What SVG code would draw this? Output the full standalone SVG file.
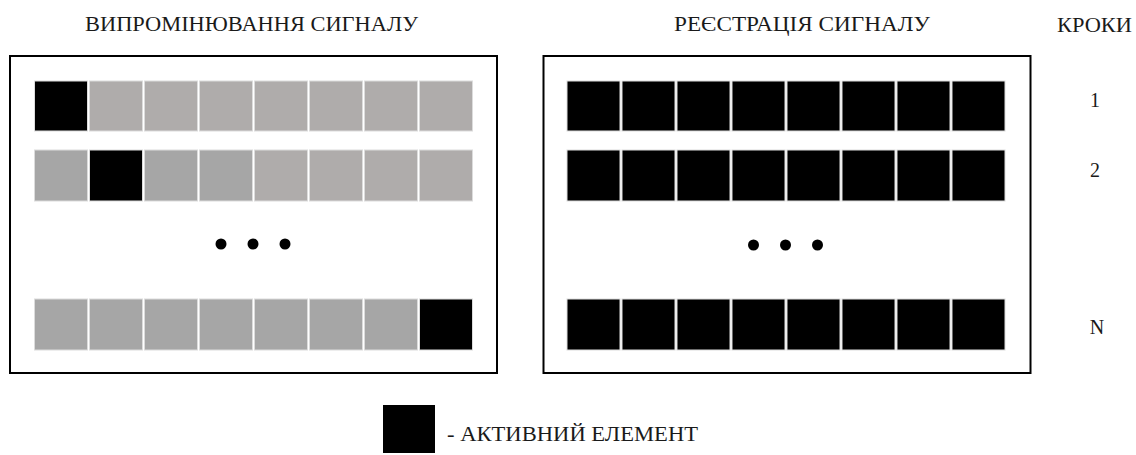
<svg xmlns="http://www.w3.org/2000/svg" width="1136" height="455" viewBox="0 0 1136 455">
  <style>
    text { font-family: 'Liberation Serif', 'DejaVu Serif', serif; font-size: 20px; fill: #1a1a1a; }
    .frame { fill: #ffffff; stroke: #000000; stroke-width: 2; }
    .c { stroke: #dcdcdc; stroke-width: 1; }
    .k { fill: #000000; }
    .g1 { fill: #a6a6a6; }
    .g2 { fill: #afacab; }
    .dot { fill: #000000; }
  </style>
  <rect width="1136" height="455" fill="#ffffff"/>

  <g id="title-emission">
    <text x="251.5" y="31" text-anchor="middle" textLength="333" lengthAdjust="spacingAndGlyphs">ВИПРОМІНЮВАННЯ СИГНАЛУ</text>
  </g>
  <g id="title-registration">
    <text x="802" y="31" text-anchor="middle" textLength="256" lengthAdjust="spacingAndGlyphs">РЕЄСТРАЦІЯ СИГНАЛУ</text>
  </g>
  <g id="title-steps">
    <text x="1094.5" y="32" text-anchor="middle" textLength="75" lengthAdjust="spacingAndGlyphs">КРОКИ</text>
  </g>

  <g id="emission-panel">
    <rect class="frame" x="10" y="56" width="487" height="317"/>
    <g id="emission-row-1">
      <rect class="c k"  x="34.5"  y="81" width="53" height="50"/>
      <rect class="c g2" x="89.5"  y="81" width="53" height="50"/>
      <rect class="c g2" x="144.5" y="81" width="53" height="50"/>
      <rect class="c g2" x="199.5" y="81" width="53" height="50"/>
      <rect class="c g2" x="254.5" y="81" width="53" height="50"/>
      <rect class="c g2" x="309.5" y="81" width="53" height="50"/>
      <rect class="c g2" x="364.5" y="81" width="53" height="50"/>
      <rect class="c g2" x="419.5" y="81" width="53" height="50"/>
    </g>
    <g id="emission-row-2">
      <rect class="c g1" x="34.5"  y="150" width="53" height="51"/>
      <rect class="c k"  x="89.5"  y="150" width="53" height="51"/>
      <rect class="c g1" x="144.5" y="150" width="53" height="51"/>
      <rect class="c g1" x="199.5" y="150" width="53" height="51"/>
      <rect class="c g2" x="254.5" y="150" width="53" height="51"/>
      <rect class="c g2" x="309.5" y="150" width="53" height="51"/>
      <rect class="c g2" x="364.5" y="150" width="53" height="51"/>
      <rect class="c g2" x="419.5" y="150" width="53" height="51"/>
    </g>
    <g id="emission-ellipsis">
      <circle class="dot" cx="221" cy="244" r="5.5"/>
      <circle class="dot" cx="253" cy="244" r="5.5"/>
      <circle class="dot" cx="285" cy="244" r="5.5"/>
    </g>
    <g id="emission-row-n">
      <rect class="c g1" x="34.5"  y="299" width="53" height="51"/>
      <rect class="c g1" x="89.5"  y="299" width="53" height="51"/>
      <rect class="c g1" x="144.5" y="299" width="53" height="51"/>
      <rect class="c g1" x="199.5" y="299" width="53" height="51"/>
      <rect class="c g1" x="254.5" y="299" width="53" height="51"/>
      <rect class="c g1" x="309.5" y="299" width="53" height="51"/>
      <rect class="c g1" x="364.5" y="299" width="53" height="51"/>
      <rect class="c k"  x="419.5" y="299" width="53" height="51"/>
    </g>
  </g>

  <g id="registration-panel">
    <rect class="frame" x="543.5" y="56" width="487" height="317"/>
    <g id="registration-row-1">
      <rect class="c k" x="567"   y="81" width="53" height="50"/>
      <rect class="c k" x="622"   y="81" width="53" height="50"/>
      <rect class="c k" x="677"   y="81" width="53" height="50"/>
      <rect class="c k" x="732"   y="81" width="53" height="50"/>
      <rect class="c k" x="787"   y="81" width="53" height="50"/>
      <rect class="c k" x="842"   y="81" width="53" height="50"/>
      <rect class="c k" x="897"   y="81" width="53" height="50"/>
      <rect class="c k" x="952"   y="81" width="53" height="50"/>
    </g>
    <g id="registration-row-2">
      <rect class="c k" x="567"   y="150" width="53" height="51"/>
      <rect class="c k" x="622"   y="150" width="53" height="51"/>
      <rect class="c k" x="677"   y="150" width="53" height="51"/>
      <rect class="c k" x="732"   y="150" width="53" height="51"/>
      <rect class="c k" x="787"   y="150" width="53" height="51"/>
      <rect class="c k" x="842"   y="150" width="53" height="51"/>
      <rect class="c k" x="897"   y="150" width="53" height="51"/>
      <rect class="c k" x="952"   y="150" width="53" height="51"/>
    </g>
    <g id="registration-ellipsis">
      <circle class="dot" cx="753.5" cy="245" r="5.5"/>
      <circle class="dot" cx="785.5" cy="245" r="5.5"/>
      <circle class="dot" cx="817.5" cy="245" r="5.5"/>
    </g>
    <g id="registration-row-n">
      <rect class="c k" x="567"   y="299" width="53" height="51"/>
      <rect class="c k" x="622"   y="299" width="53" height="51"/>
      <rect class="c k" x="677"   y="299" width="53" height="51"/>
      <rect class="c k" x="732"   y="299" width="53" height="51"/>
      <rect class="c k" x="787"   y="299" width="53" height="51"/>
      <rect class="c k" x="842"   y="299" width="53" height="51"/>
      <rect class="c k" x="897"   y="299" width="53" height="51"/>
      <rect class="c k" x="952"   y="299" width="53" height="51"/>
    </g>
  </g>

  <g id="step-labels">
    <text x="1095" y="107" text-anchor="middle">1</text>
    <text x="1095" y="177" text-anchor="middle">2</text>
    <text x="1097" y="334" text-anchor="middle">N</text>
  </g>

  <g id="legend">
    <rect class="k" x="383" y="405" width="52" height="48"/>
    <text x="447" y="441" textLength="251" lengthAdjust="spacingAndGlyphs">- АКТИВНИЙ ЕЛЕМЕНТ</text>
  </g>

  <g id="connectors"></g>
</svg>
